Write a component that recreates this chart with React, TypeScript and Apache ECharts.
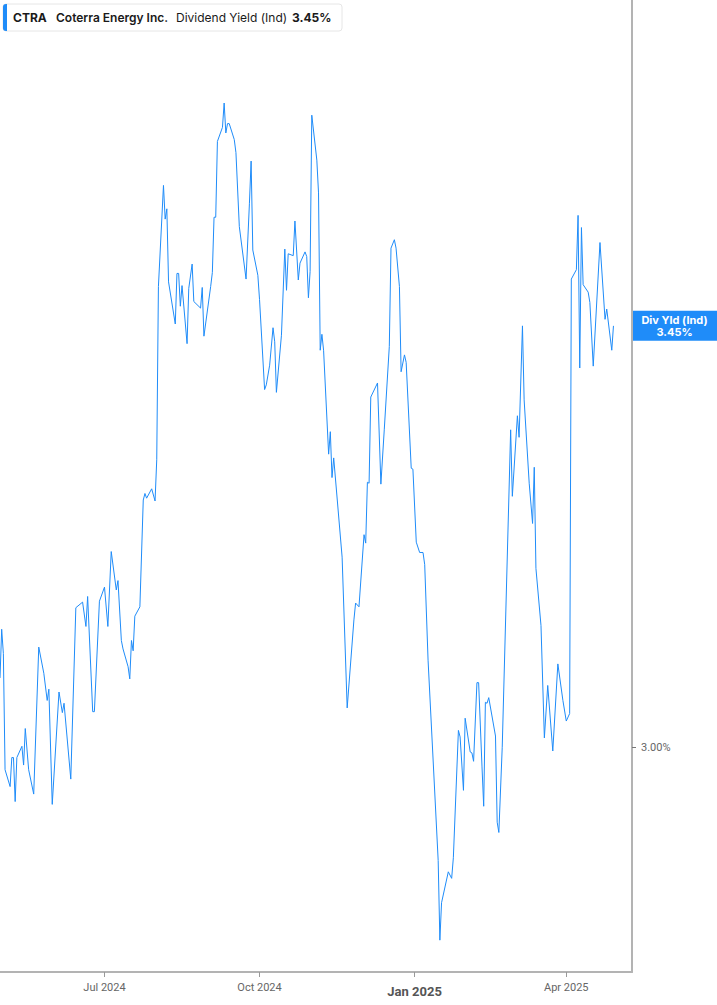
import React, { useEffect, useRef } from "react";
import * as echarts from "echarts";

const ticker = "CTRA";
const company = "Coterra Energy Inc.";
const metric = "Dividend Yield (Ind)";
const shortMetric = "Div Yld (Ind)";

const dates = [
  "2024-04-30","2024-05-01","2024-05-02","2024-05-03","2024-05-06","2024-05-07","2024-05-08","2024-05-09","2024-05-10","2024-05-13",
  "2024-05-14","2024-05-15","2024-05-17","2024-05-20","2024-05-23","2024-05-26","2024-05-28","2024-05-29","2024-05-31","2024-06-04",
  "2024-06-06","2024-06-07","2024-06-11","2024-06-14","2024-06-18","2024-06-20","2024-06-21","2024-06-24","2024-06-25","2024-06-28",
  "2024-07-01","2024-07-03","2024-07-05","2024-07-08","2024-07-09","2024-07-11","2024-07-12","2024-07-15","2024-07-16","2024-07-17",
  "2024-07-18","2024-07-19","2024-07-22","2024-07-24","2024-07-25","2024-07-26","2024-07-29","2024-07-31","2024-08-01","2024-08-02",
  "2024-08-05","2024-08-06","2024-08-07","2024-08-08","2024-08-12","2024-08-13","2024-08-14","2024-08-15","2024-08-16","2024-08-19",
  "2024-08-20","2024-08-22","2024-08-23","2024-08-27","2024-08-28","2024-08-29","2024-09-02","2024-09-03","2024-09-04","2024-09-05",
  "2024-09-06","2024-09-09","2024-09-10","2024-09-11","2024-09-12","2024-09-13","2024-09-16","2024-09-17","2024-09-19","2024-09-23",
  "2024-09-25","2024-09-26","2024-09-27","2024-09-30","2024-10-01","2024-10-04","2024-10-05","2024-10-07","2024-10-09","2024-10-10",
  "2024-10-11","2024-10-14","2024-10-16","2024-10-17","2024-10-18","2024-10-21","2024-10-22","2024-10-24","2024-10-25","2024-10-28",
  "2024-10-29","2024-10-30","2024-10-31","2024-11-01","2024-11-04","2024-11-05","2024-11-06","2024-11-07","2024-11-08","2024-11-11",
  "2024-11-12","2024-11-13","2024-11-14","2024-11-19","2024-11-22","2024-11-26","2024-11-27","2024-11-29","2024-12-02","2024-12-03",
  "2024-12-04","2024-12-05","2024-12-06","2024-12-10","2024-12-12","2024-12-14","2024-12-17","2024-12-18","2024-12-20","2024-12-21",
  "2024-12-23","2024-12-24","2024-12-26","2024-12-27","2024-12-30","2024-12-31","2025-01-02","2025-01-04","2025-01-06","2025-01-07",
  "2025-01-09","2025-01-15","2025-01-16","2025-01-17","2025-01-21","2025-01-23","2025-01-24","2025-01-27","2025-01-28","2025-01-30",
  "2025-01-31","2025-02-03","2025-02-04","2025-02-05","2025-02-07","2025-02-08","2025-02-10","2025-02-11","2025-02-12","2025-02-13",
  "2025-02-14","2025-02-18","2025-02-19","2025-02-20","2025-02-22","2025-02-27","2025-02-28","2025-03-03","2025-03-04","2025-03-06",
  "2025-03-07","2025-03-10","2025-03-12","2025-03-13","2025-03-14","2025-03-17","2025-03-19","2025-03-21","2025-03-24","2025-03-27",
  "2025-03-30","2025-04-01","2025-04-03","2025-04-04","2025-04-07","2025-04-08","2025-04-09","2025-04-10","2025-04-11","2025-04-14",
  "2025-04-15","2025-04-17","2025-04-21","2025-04-24","2025-04-25","2025-04-28","2025-04-29",
];

const yields = [
  3.074,3.126,3.100,2.976,2.958,2.989,2.989,2.942,2.989,3.001,
  2.981,3.020,2.976,2.950,3.107,3.079,3.050,3.062,2.939,3.059,
  3.037,3.047,2.966,3.149,3.155,3.129,3.161,3.038,3.038,3.156,
  3.171,3.129,3.209,3.168,3.178,3.114,3.105,3.086,3.073,3.114,
  3.103,3.140,3.150,3.264,3.271,3.266,3.276,3.263,3.307,3.492,
  3.600,3.564,3.575,3.497,3.452,3.506,3.506,3.471,3.493,3.431,
  3.490,3.516,3.476,3.469,3.491,3.439,3.492,3.507,3.566,3.566,
  3.647,3.662,3.688,3.656,3.666,3.666,3.649,3.635,3.556,3.500,
  3.581,3.626,3.531,3.504,3.478,3.382,3.387,3.408,3.448,3.433,
  3.379,3.440,3.532,3.488,3.527,3.525,3.562,3.499,3.517,3.529,
  3.524,3.480,3.508,3.675,3.627,3.592,3.424,3.441,3.424,3.313,
  3.337,3.288,3.309,3.203,3.042,3.136,3.154,3.150,3.227,3.218,
  3.283,3.282,3.374,3.389,3.281,3.339,3.428,3.533,3.542,3.533,
  3.492,3.401,3.419,3.411,3.298,3.297,3.219,3.208,3.208,3.195,
  3.093,2.879,2.794,2.834,2.867,2.860,2.882,3.018,3.011,2.954,
  3.031,2.995,2.994,2.985,3.069,3.069,2.979,2.937,3.048,3.047,
  3.053,3.012,2.920,2.909,3.000,3.339,3.268,3.354,3.331,3.450,
  3.371,3.282,3.239,3.299,3.191,3.130,3.010,3.066,2.996,3.089,
  3.050,3.028,3.036,3.500,3.510,3.568,3.405,3.555,3.494,3.486,
  3.475,3.407,3.539,3.457,3.468,3.424,3.450,
];

const xTickDates = ["2024-07-01", "2024-10-01", "2025-01-01", "2025-04-01"];
const yTickValues = [3.0];
const axisStart = "2024-04-30";
const axisEnd = "2025-05-10";
const yMin = 2.76;
const yMax = 3.798;

const MONTHS = ["Jan","Feb","Mar","Apr","May","Jun","Jul","Aug","Sep","Oct","Nov","Dec"];
const BLUE = "#1f8cf9";

function ts(s: string): number {
  const [y, m, d] = s.split("-").map(Number);
  return new Date(y, m - 1, d).getTime();
}

export default function App() {
  const ref = useRef<HTMLDivElement>(null);
  useEffect(() => {
    if (!ref.current) return;
    const chart = echarts.init(ref.current, undefined, { renderer: "svg" });
    const xTicks = xTickDates.map(ts);
    const last = yields[yields.length - 1];
    const lastText = last.toFixed(2) + "%";
    chart.setOption({
      animation: false,
      grid: { left: 0, right: 85, top: 0, bottom: 33 },
      xAxis: {
        type: "value",
        min: ts(axisStart),
        max: ts(axisEnd),
        axisLine: { show: true, lineStyle: { color: "#b3b3b3", width: 2 } },
        axisTick: { show: true, customValues: xTicks, length: 5, lineStyle: { color: "#999", width: 1 } },
        axisLabel: {
          customValues: xTicks,
          margin: 10,
          color: "#666",
          fontFamily: "Roboto",
          fontSize: 11,
          formatter: (v: number) => {
            const d = new Date(v);
            const s = MONTHS[d.getMonth()] + " " + d.getFullYear();
            return d.getMonth() === 0 ? "{b|" + s + "}" : s;
          },
          rich: { b: { fontWeight: "bold", fontSize: 13, color: "#555", fontFamily: "Roboto", padding: [3, 0, 0, 0] } },
        },
        splitLine: { show: false },
      },
      yAxis: {
        type: "value",
        position: "right",
        min: yMin,
        max: yMax,
        axisLine: { show: true, lineStyle: { color: "#b3b3b3", width: 2 } },
        axisTick: { show: true, customValues: yTickValues, length: 4, lineStyle: { color: "#777" } },
        axisLabel: {
          customValues: yTickValues,
          margin: 9,
          color: "#666",
          fontFamily: "Roboto",
          fontSize: 11,
          formatter: (v: number) => v.toFixed(2) + "%",
        },
        splitLine: { show: false },
      },
      series: [
        {
          type: "line",
          data: dates.map((d, i) => [ts(d), yields[i]]),
          showSymbol: false,
          silent: true,
          lineStyle: { color: BLUE, width: 1 },
        },
      ],
    });
    const yPix = chart.convertToPixel({ yAxisIndex: 0 }, last) as number;
    const xPix = chart.convertToPixel({ xAxisIndex: 0 }, ts(axisEnd)) as number;
    const W = 717;
    chart.setOption({
      graphic: [
        { type: "rect", shape: { x: 3, y: 4, width: 339, height: 27, r: 3 }, style: { fill: "#fff", stroke: "#e6e6e6", lineWidth: 1 } },
        { type: "rect", shape: { x: 3, y: 4, width: 4, height: 27, r: [3, 0, 0, 3] }, style: { fill: BLUE } },
        { type: "text", x: 13, y: 17.5, style: { text: ticker, fill: "#1a1a1a", font: "bold 12px Inter", verticalAlign: "middle", align: "left" } },
        { type: "text", x: 56, y: 17.5, style: { text: company, fill: "#1a1a1a", font: "600 12px Inter", verticalAlign: "middle", align: "left" } },
        { type: "text", x: 176, y: 17.5, style: { text: metric, fill: "#1a1a1a", font: "normal 12px Inter", verticalAlign: "middle", align: "left" } },
        { type: "text", x: 292, y: 17.5, style: { text: lastText, fill: "#1a1a1a", font: "bold 12px Inter", verticalAlign: "middle", align: "left" } },
        { type: "rect", shape: { x: xPix, y: yPix - 15, width: W - xPix, height: 30 }, style: { fill: BLUE } },
        { type: "text", x: (xPix + W) / 2, y: yPix - 6, style: { text: shortMetric, fill: "#fff", font: "bold 11px Inter", verticalAlign: "middle", align: "center" } },
        { type: "text", x: (xPix + W) / 2, y: yPix + 6, style: { text: lastText, fill: "#fff", font: "bold 11px Inter", verticalAlign: "middle", align: "center" } },
      ],
    });
    return () => chart.dispose();
  }, []);
  return <div ref={ref} style={{ position: "absolute", left: 0, top: 0, width: 717, height: 1005 }} />;
}
